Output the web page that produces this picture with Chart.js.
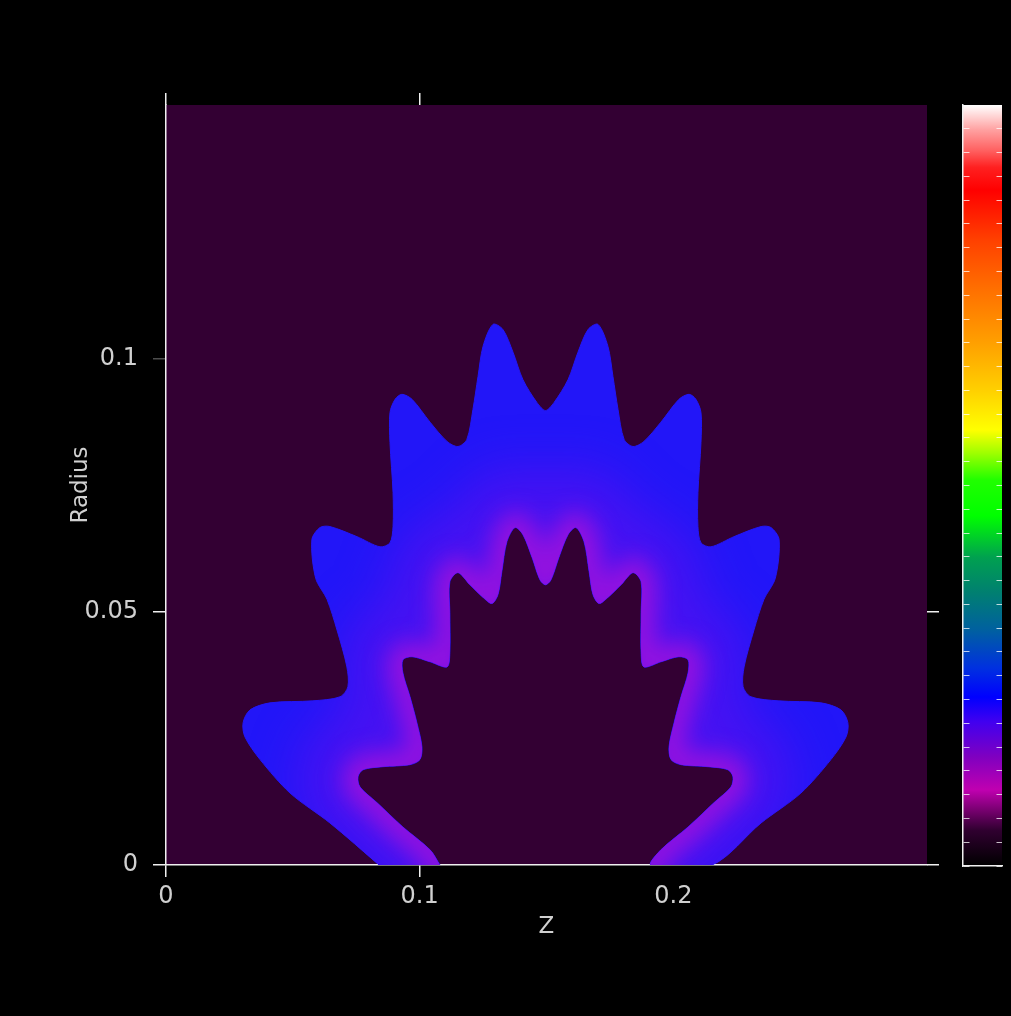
<!DOCTYPE html>
<html>
<head>
<meta charset="utf-8">
<script src="https://cdn.jsdelivr.net/npm/chart.js@4.4.1/dist/chart.umd.min.js"></script>
<style>
  html, body { margin: 0; padding: 0; background: #000; }
  #wrap { position: relative; width: 1011px; height: 1016px; }
  canvas { position: absolute; top: 0; }
  #main { left: 0; }
  #bar { left: 940px; }
</style>
</head>
<body>
<div id="wrap">
  <canvas id="main" width="1011" height="1016"></canvas>
  <canvas id="bar" width="71" height="1016"></canvas>
</div>
<script>
// outer edge of the crown, left leg -> right leg
const outerZ = [0.0840, 0.0646, 0.0489, 0.0371, 0.0311, 0.0304, 0.0331, 0.0410, 0.0579, 0.0686,
  0.0717, 0.0713, 0.0674, 0.0635, 0.0590, 0.0575, 0.0607, 0.0646, 0.0753, 0.0844,
  0.0883, 0.0895, 0.0895, 0.0883, 0.0883, 0.0903, 0.0930, 0.0970, 0.1041, 0.1108,
  0.1151, 0.1186, 0.1210, 0.1230, 0.1250, 0.1289, 0.1328, 0.1368, 0.1407, 0.1462,
  0.1496,
  0.1530, 0.1585, 0.1624, 0.1664, 0.1703, 0.1742, 0.1762, 0.1782, 0.1806, 0.1841,
  0.1884, 0.1951, 0.2022, 0.2062, 0.2089, 0.2109, 0.2109, 0.2097, 0.2097, 0.2109,
  0.2148, 0.2239, 0.2346, 0.2385, 0.2417, 0.2402, 0.2357, 0.2318, 0.2279, 0.2275,
  0.2306, 0.2413, 0.2582, 0.2661, 0.2688, 0.2681, 0.2621, 0.2503, 0.2346, 0.2152];
const outerRadius = [0.0000, 0.0083, 0.0142, 0.0208, 0.0253, 0.0281, 0.0306, 0.0320, 0.0324, 0.0332,
  0.0352, 0.0391, 0.0464, 0.0524, 0.0566, 0.0642, 0.0666, 0.0668, 0.0648, 0.0628,
  0.0636, 0.0668, 0.0735, 0.0834, 0.0893, 0.0919, 0.0929, 0.0919, 0.0874, 0.0836,
  0.0826, 0.0840, 0.0899, 0.0964, 0.1024, 0.1067, 0.1057, 0.1012, 0.0958, 0.0913,
  0.0897,
  0.0913, 0.0958, 0.1012, 0.1057, 0.1067, 0.1024, 0.0964, 0.0899, 0.0840, 0.0826,
  0.0836, 0.0874, 0.0919, 0.0929, 0.0919, 0.0893, 0.0834, 0.0735, 0.0668, 0.0636,
  0.0628, 0.0648, 0.0668, 0.0666, 0.0642, 0.0566, 0.0524, 0.0464, 0.0391, 0.0352,
  0.0332, 0.0324, 0.0320, 0.0306, 0.0281, 0.0253, 0.0208, 0.0142, 0.0083, 0.0000];

// inner edge of the crown, left leg -> right leg
const innerZ = [0.1080, 0.1041, 0.0934, 0.0832, 0.0765, 0.0757, 0.0777, 0.0855, 0.0962, 0.1001,
  0.1009, 0.0989, 0.0962, 0.0934, 0.0934, 0.0970, 0.1041, 0.1108, 0.1119, 0.1119,
  0.1119, 0.1151, 0.1198, 0.1250, 0.1285, 0.1309, 0.1324, 0.1344, 0.1376, 0.1407,
  0.1443, 0.1474,
  0.1496,
  0.1518, 0.1549, 0.1585, 0.1616, 0.1648, 0.1668, 0.1683, 0.1707, 0.1742, 0.1794,
  0.1841, 0.1873, 0.1873, 0.1873, 0.1884, 0.1951, 0.2022, 0.2058, 0.2058, 0.2030,
  0.2003, 0.1983, 0.1991, 0.2030, 0.2137, 0.2215, 0.2235, 0.2227, 0.2160, 0.2058,
  0.1951, 0.1912];
const innerRadius = [0.0000, 0.0030, 0.0075, 0.0123, 0.0154, 0.0174, 0.0188, 0.0194, 0.0198, 0.0208,
  0.0233, 0.0281, 0.0332, 0.0379, 0.0405, 0.0411, 0.0401, 0.0391, 0.0419, 0.0498,
  0.0559, 0.0577, 0.0553, 0.0528, 0.0516, 0.0534, 0.0579, 0.0638, 0.0666, 0.0652,
  0.0607, 0.0563,
  0.0553,
  0.0563, 0.0607, 0.0652, 0.0666, 0.0638, 0.0579, 0.0534, 0.0516, 0.0528, 0.0553,
  0.0577, 0.0559, 0.0498, 0.0419, 0.0391, 0.0401, 0.0411, 0.0405, 0.0379, 0.0332,
  0.0281, 0.0233, 0.0208, 0.0198, 0.0194, 0.0188, 0.0174, 0.0154, 0.0123, 0.0075,
  0.0030, 0.0000];

const zTicks = [0, 0.1, 0.2];
const zTickMarks = [0, 0.1];
const radiusTicks = [0, 0.05, 0.1];
const radiusTickMarks = [0, 0.05];

// colour bar, bottom (0) -> top (1)
const paletteStops = [0, 0.047, 0.10, 0.143, 0.19, 0.222, 0.26, 0.31, 0.36, 0.405, 0.46,
  0.507, 0.543, 0.573, 0.625, 0.687, 0.757, 0.823, 0.888, 0.918, 0.94, 0.967, 1];
const paletteColors = ['#000000', '#300030', '#c000b0', '#8000c0', '#4000f0', '#0000ff', '#0030e0',
  '#0060a0', '#008070', '#00a050', '#00ff00', '#20ff00', '#a0ff00', '#ffff00', '#ffd000',
  '#ffa000', '#ff7000', '#ff4000', '#ff0000', '#ff2020', '#ff6060', '#ffa0a0', '#ffffff'];
const paletteLevels = 32;

Chart.defaults.font.family = "'DejaVu Sans', sans-serif";
Chart.defaults.color = '#d0d0d0';

const outerPts = outerZ.map((z, i) => ({ x: z, y: outerRadius[i] }));
const innerPts = innerZ.map((z, i) => ({ x: z, y: innerRadius[i] }));
const bandPts = outerPts.concat(innerPts.slice().reverse());

const plotBg = {
  id: 'plotBg',
  beforeDraw(chart) {
    const { ctx, chartArea: a } = chart;
    ctx.save();
    ctx.fillStyle = '#330033';
    ctx.fillRect(a.left, a.top, a.width, a.height);
    ctx.restore();
  }
};

// soft strokes along the inner edge, kept inside the band
const bandGlow = {
  id: 'bandGlow',
  beforeDatasetDraw(chart, args) {
    const ds = chart.data.datasets[args.index];
    if (!ds.glow) return;
    const ctx = chart.ctx;
    const band = chart.getDatasetMeta(0).dataset;
    ctx.save();
    ctx.beginPath();
    band.path(ctx);
    ctx.closePath();
    ctx.clip();
    ctx.filter = 'blur(' + ds.glow + 'px)';
  },
  afterDatasetDraw(chart, args) {
    const ds = chart.data.datasets[args.index];
    if (!ds.glow) return;
    chart.ctx.filter = 'none';
    chart.ctx.restore();
  }
};

const axisColor = '#f0f0f0';

new Chart(document.getElementById('main'), {
  type: 'scatter',
  data: {
    datasets: [
      {
        label: 'band', data: bandPts, showLine: true, fill: 'shape',
        backgroundColor: '#2216f8', borderColor: '#2216f8', borderWidth: 1,
        pointRadius: 0, tension: 0.3, order: 3
      },
      {
        label: 'haze', data: innerPts, showLine: true, fill: false,
        borderColor: 'rgba(95,15,238,0.6)', borderWidth: 120, borderJoinStyle: 'round', borderCapStyle: 'round',
        pointRadius: 0, tension: 0.3, glow: 24, order: 2
      },
      {
        label: 'edge', data: innerPts, showLine: true, fill: false,
        borderColor: 'rgba(150,18,222,0.95)', borderWidth: 30, borderJoinStyle: 'round', borderCapStyle: 'round',
        pointRadius: 0, tension: 0.3, glow: 11, order: 1
      }
    ]
  },
  options: {
    responsive: false,
    animation: false,
    events: [],
    layout: { padding: { left: 0, right: 84, top: 105, bottom: 0 } },
    plugins: { legend: { display: false }, tooltip: { enabled: false } },
    scales: {
      x: {
        type: 'linear', position: 'bottom', min: 0, max: 0.3,
        afterBuildTicks: s => { s.ticks = zTicks.map(v => ({ value: v })); },
        afterFit: s => { s.height = 151; },
        ticks: { font: { size: 24 }, padding: 5, callback: v => String(v) },
        grid: {
          drawOnChartArea: false, tickLength: 12, lineWidth: 1.5,
          tickColor: c => zTickMarks.includes(c.tick && c.tick.value) ? axisColor : 'rgba(0,0,0,0)'
        },
        border: { color: axisColor, width: 1.5 },
        title: { display: true, text: 'Z', font: { size: 23 }, padding: { top: 0, bottom: 75 } }
      },
      x2: {
        type: 'linear', position: 'top', min: 0, max: 0.3,
        afterBuildTicks: s => { s.ticks = zTickMarks.map(v => ({ value: v })); },
        afterFit: s => { s.height = 0; },
        ticks: { display: false },
        grid: { drawOnChartArea: false, tickLength: 12, lineWidth: 1.5, tickColor: axisColor },
        border: { display: false }
      },
      y: {
        type: 'linear', position: 'left', min: 0, max: 0.15,
        afterBuildTicks: s => { s.ticks = radiusTicks.map(v => ({ value: v })); },
        afterFit: s => { s.width = 166; },
        ticks: { font: { size: 24 }, padding: 15, callback: v => String(v) },
        grid: {
          drawOnChartArea: false, tickLength: 13, lineWidth: 1.5,
          tickColor: c => radiusTickMarks.includes(c.tick && c.tick.value) ? axisColor : 'rgba(255,255,255,0.3)'
        },
        border: { color: axisColor, width: 1.5 },
        title: { display: true, text: 'Radius', font: { size: 23 }, padding: { top: 67, bottom: 0 } }
      },
      y2: {
        type: 'linear', position: 'right', min: 0, max: 0.15,
        afterBuildTicks: s => { s.ticks = radiusTickMarks.map(v => ({ value: v })); },
        afterFit: s => { s.width = 0; },
        ticks: { display: false },
        grid: { drawOnChartArea: false, tickLength: 12, lineWidth: 1.5, tickColor: axisColor },
        border: { display: false }
      }
    }
  },
  plugins: [plotBg, bandGlow]
});

function paletteGradient(chart) {
  if (!chart.chartArea) return null;
  const y = chart.scales.y;
  const g = chart.ctx.createLinearGradient(0, y.getPixelForValue(0), 0, y.getPixelForValue(paletteLevels));
  paletteStops.forEach((s, i) => g.addColorStop(s, paletteColors[i]));
  return g;
}

new Chart(document.getElementById('bar'), {
  type: 'bar',
  data: {
    labels: ['level'],
    datasets: [{
      data: [paletteLevels],
      backgroundColor: c => paletteGradient(c.chart),
      borderWidth: 0, barPercentage: 1, categoryPercentage: 1
    }]
  },
  options: {
    responsive: false,
    animation: false,
    events: [],
    layout: { padding: { left: 23, right: 9, top: 105, bottom: 150 } },
    plugins: { legend: { display: false }, tooltip: { enabled: false } },
    scales: {
      x: {
        grid: { display: false }, ticks: { display: false },
        afterFit: s => { s.height = 0; },
        border: { color: axisColor, width: 1.5, z: 1 }
      },
      y: {
        min: 0, max: paletteLevels,
        afterFit: s => { s.width = 0; },
        ticks: { display: false, stepSize: 1 },
        grid: { color: 'rgba(255,255,255,0.75)', drawTicks: false, z: 1 },
        border: { color: axisColor, width: 1.5, dash: [6, 27], z: 1 }
      }
    }
  }
});
</script>
</body>
</html>
